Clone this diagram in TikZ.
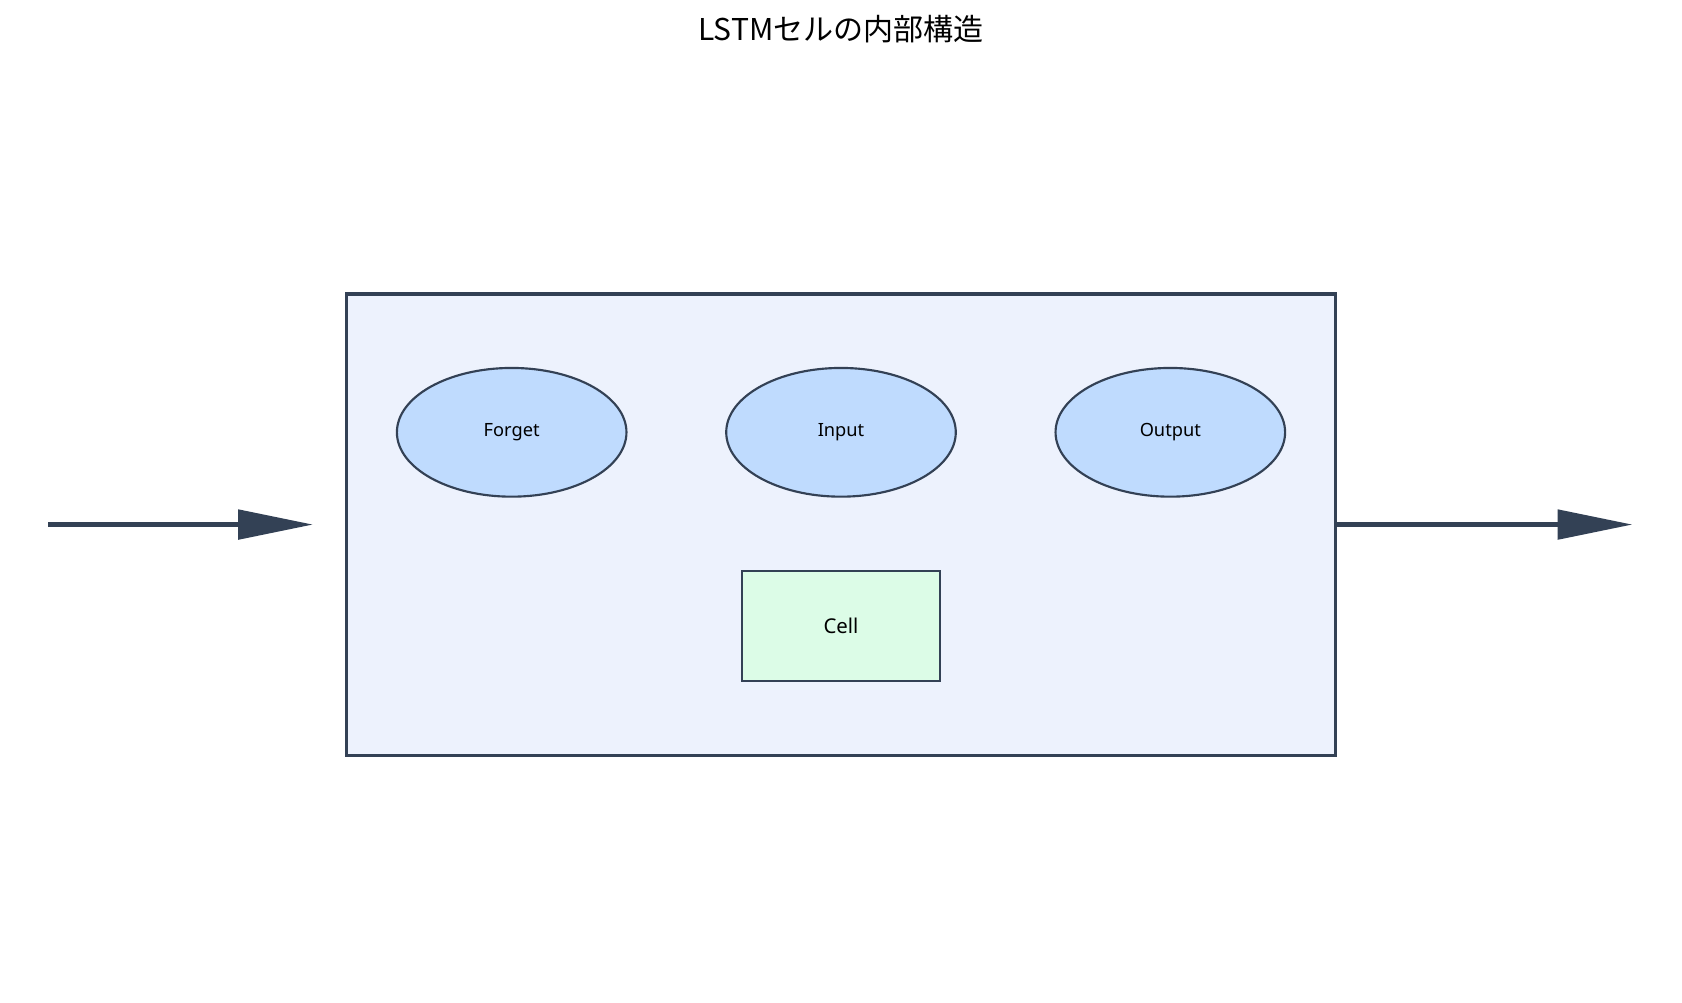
\documentclass[tikz,border=0pt]{standalone}
\usepackage{fontspec}
\setmainfont{Noto Sans}
\newfontfamily\cjk{Noto Sans CJK JP}
\usetikzlibrary{arrows.meta}
\definecolor{ink}{HTML}{334155}
\definecolor{boxbg}{HTML}{EDF2FD}
\definecolor{gatebg}{HTML}{BFDBFE}
\definecolor{cellbg}{HTML}{DCFCE7}
\tikzset{
  gate/.style={ellipse, draw=ink, line width=2pt, fill=gatebg, minimum width=214pt, minimum height=120pt, inner sep=0pt, font=\fontsize{17}{20}\selectfont},
  cellbox/.style={rectangle, draw=ink, line width=2pt, fill=cellbg, minimum width=184pt, minimum height=103pt, inner sep=0pt, font=\fontsize{19}{22}\selectfont},
  flow/.style={draw=ink, line width=5pt, -{Triangle[length=70pt,width=27pt]}}
}
\usetikzlibrary{shapes.geometric}
\begin{document}
\begin{tikzpicture}[x=1pt,y=-1pt]
\useasboundingbox (0,0) rectangle (1568,935);
\node[font=\cjk\fontsize{28}{32}\selectfont] (title) at (784,27) {LSTMセルの内部構造};
\node[draw=ink, line width=3pt, fill=boxbg, minimum width=922pt, minimum height=430pt, inner sep=0pt] (lstm) at (784,489) {};
\node[gate] (forget) at (477,403) {Forget};
\node[gate] (input) at (784,403) {Input};
\node[gate] (output) at (1091,403) {Output};
\node[cellbox] (cell) at (784,583.5) {Cell};
\coordinate (inS) at (45,489);
\coordinate (inE) at (292,489);
\coordinate (outE) at (1522,489);
\draw[flow] (inS) -- (inE);
\draw[flow] (lstm.east) -- (outE);
\end{tikzpicture}
\end{document}
